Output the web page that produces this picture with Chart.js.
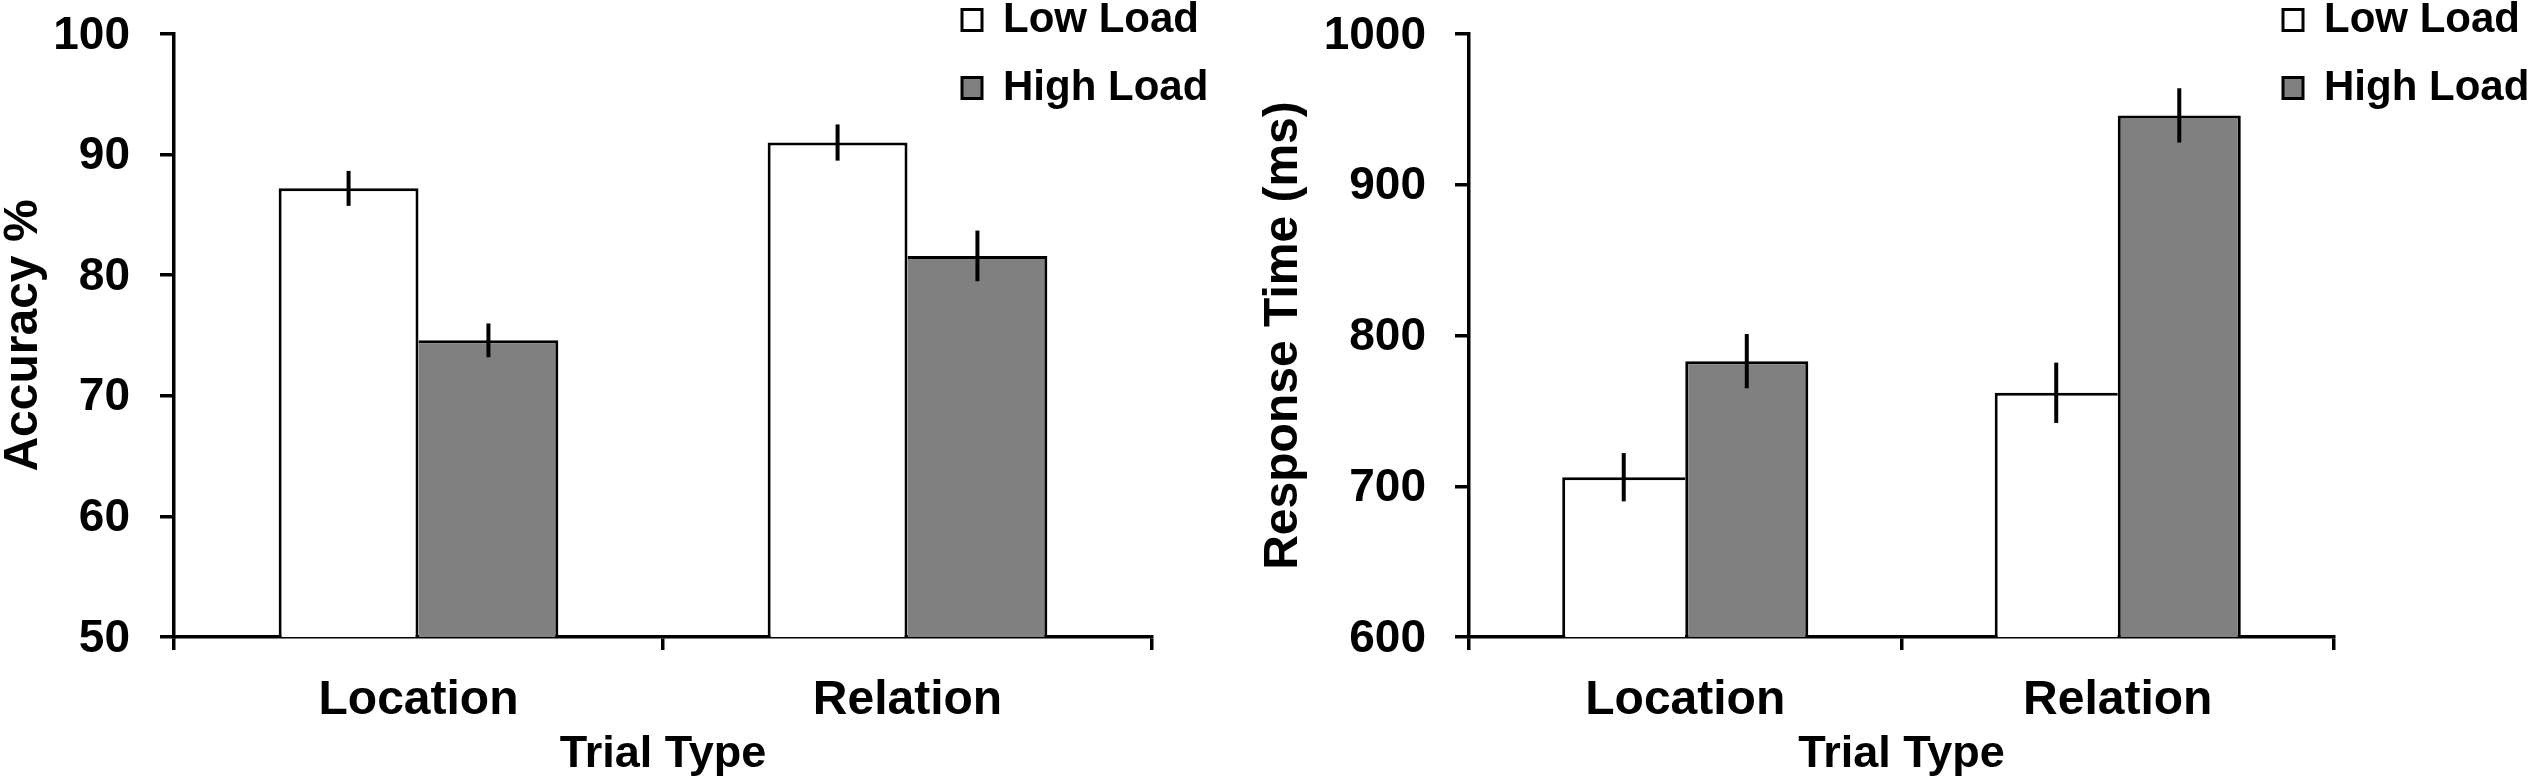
<!DOCTYPE html>
<html>
<head>
<meta charset="utf-8">
<script src="https://cdn.jsdelivr.net/npm/chart.js@4.4.1/dist/chart.umd.min.js"></script>
<style>
  html, body { margin: 0; padding: 0; background: #fff; overflow: hidden; }
  #left { position: absolute; left: 0; top: 0; width: 1250px; height: 783px; }
  #right { position: absolute; left: 1250px; top: 0; width: 1283px; height: 783px; }
</style>
</head>
<body>
<div id="left"><canvas id="accChart"></canvas></div>
<div id="right"><canvas id="rtChart"></canvas></div>
<script>
// ---- data ----
const categories = ['Location', 'Relation'];
const seriesNames = ['Low Load', 'High Load'];

const accuracyLow = [87.2, 91.0];
const accuracyLowErr = [1.45, 1.5];
const accuracyHigh = [74.6, 81.6];
const accuracyHighErr = [1.4, 2.1];

const rtLow = [706, 762];
const rtLowErr = [16, 20];
const rtHigh = [783, 946];
const rtHighErr = [18, 18];

const accTicks = { min: 50, max: 100, step: 10 };
const rtTicks = { min: 600, max: 1000, step: 100 };

const accTitle = 'Accuracy %';
const rtTitle = 'Response Time (ms)';
const xTitle = 'Trial Type';

// ---- styling ----
const FONT = '"Liberation Sans", Arial, Helvetica, sans-serif';
const LOW_FILL = '#ffffff';
const HIGH_FILL = '#808080';
const INK = '#000000';

const errorBarsPlugin = {
  id: 'errorBars',
  afterDatasetsDraw(chart, args, opts) {
    const ctx = chart.ctx;
    const yScale = chart.scales.y;
    chart.data.datasets.forEach((ds, di) => {
      const meta = chart.getDatasetMeta(di);
      meta.data.forEach((bar, i) => {
        const v = ds.data[i];
        const e = ds.errors[i];
        ctx.save();
        ctx.strokeStyle = INK;
        ctx.lineWidth = opts.width || 4;
        ctx.beginPath();
        ctx.moveTo(bar.x, yScale.getPixelForValue(v + e));
        ctx.lineTo(bar.x, yScale.getPixelForValue(v - e));
        ctx.stroke();
        ctx.restore();
      });
    });
  }
};

const legendPlacePlugin = {
  id: 'legendPlace',
  afterLayout(chart, args, opts) {
    const lg = chart.legend;
    if (!lg) return;
    const pad = lg.options.labels.padding;
    lg.left = opts.x - pad;
    lg.top = opts.y - pad;
    lg.right = lg.left + lg.width;
    lg.bottom = chart.height;
  }
};

function makeChart(canvasId, cfg) {
  // the border shared by two touching bars is drawn by the taller one only
  const lowSkip = (c) => (cfg.low[c.dataIndex] <= cfg.high[c.dataIndex] ? 'right' : 'bottom');
  const highSkip = (c) => (cfg.high[c.dataIndex] < cfg.low[c.dataIndex] ? 'left' : 'bottom');
  return new Chart(document.getElementById(canvasId), {
    type: 'bar',
    data: {
      labels: categories,
      datasets: [
        {
          label: seriesNames[0],
          data: cfg.low,
          errors: cfg.lowErr,
          backgroundColor: LOW_FILL,
          borderColor: INK,
          borderWidth: 3,
          borderSkipped: lowSkip,
          categoryPercentage: cfg.catPct,
          barPercentage: 1.0
        },
        {
          label: seriesNames[1],
          data: cfg.high,
          errors: cfg.highErr,
          backgroundColor: HIGH_FILL,
          borderColor: INK,
          borderWidth: 3,
          borderSkipped: highSkip,
          categoryPercentage: cfg.catPct,
          barPercentage: 1.0
        }
      ]
    },
    options: {
      responsive: true,
      maintainAspectRatio: false,
      animation: false,
      events: [],
      layout: { padding: { left: 0, top: 34, right: cfg.padRight, bottom: 0 } },
      plugins: {
        tooltip: { enabled: false },
        legend: {
          display: true,
          position: 'chartArea',
          align: 'start',
          labels: {
            boxWidth: 20,
            boxHeight: 21,
            padding: 26,
            color: INK,
            font: { family: FONT, size: 42, weight: 'bold' }
          }
        },
        legendPlace: { x: cfg.legendX, y: -1 },
        errorBars: { width: 4 }
      },
      scales: {
        x: {
          afterFit(scale) {
            scale.height = 146;
            scale.paddingLeft = 0; scale.paddingRight = 0;
          },
          grid: {
            offset: true,
            drawOnChartArea: false,
            drawTicks: true,
            tickLength: 13,
            tickWidth: 3.5,
            tickColor: INK,
            color: INK,
            lineWidth: 3.5
          },
          border: { display: true, color: INK, width: 3.5 },
          ticks: {
            color: INK,
            padding: 22,
            font: { family: FONT, size: 48, weight: 'bold' },
            maxRotation: 0
          },
          title: {
            display: true,
            text: xTitle,
            color: INK,
            font: { family: FONT, size: 45, weight: 'bold', lineHeight: 1.2 },
            padding: { top: 0, bottom: 1 }
          }
        },
        y: {
          min: cfg.ticks.min,
          max: cfg.ticks.max,
          afterFit(scale) {
            scale.width = cfg.yWidth;
            scale.paddingTop = 0; scale.paddingBottom = 0;
          },
          grid: {
            drawOnChartArea: false,
            drawTicks: true,
            tickLength: 14,
            tickWidth: 3.5,
            tickColor: INK,
            color: INK,
            lineWidth: 3.5
          },
          border: { display: true, color: INK, width: 3.5 },
          ticks: {
            stepSize: cfg.ticks.step,
            color: INK,
            padding: cfg.tickPad,
            labelOffset: 2,
            font: { family: FONT, size: 46, weight: 'bold' },
            callback: (value) => String(value)
          },
          title: {
            display: true,
            text: cfg.yTitle,
            color: INK,
            font: { family: FONT, size: 48, weight: 'bold', lineHeight: cfg.titleLH },
            padding: { top: cfg.titlePad, bottom: 0 }
          }
        }
      }
    },
    plugins: [errorBarsPlugin, legendPlacePlugin]
  });
}

makeChart('accChart', {
  low: accuracyLow, lowErr: accuracyLowErr,
  high: accuracyHigh, highErr: accuracyHighErr,
  ticks: accTicks, yTitle: accTitle,
  catPct: 0.572, padRight: 98, yWidth: 174, tickPad: 30,
  titleLH: 1.0, titlePad: 0, legendX: 962
});

makeChart('rtChart', {
  low: rtLow, lowErr: rtLowErr,
  high: rtHigh, highErr: rtHighErr,
  ticks: rtTicks, yTitle: rtTitle,
  catPct: 0.569, padRight: 199, yWidth: 219, tickPad: 29,
  titleLH: 1.0, titlePad: 10, legendX: 1033
});
</script>
</body>
</html>
